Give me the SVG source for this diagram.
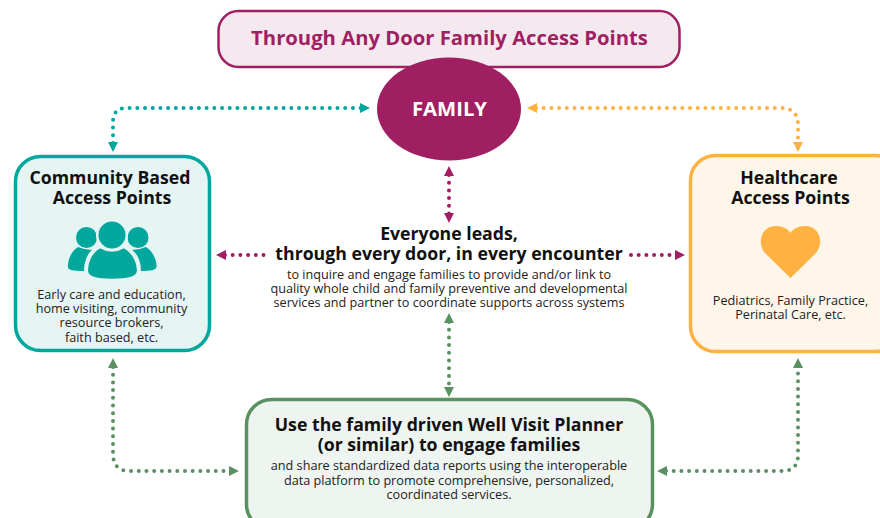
<svg xmlns="http://www.w3.org/2000/svg" width="880" height="518" viewBox="0 0 880 518">
<style>
text{font-family:"Open Sans","Liberation Sans",sans-serif;text-anchor:middle;fill:#111}
.h{font-size:17.700px;font-weight:700}
.b{font-size:12.650px;fill:#222}
.box{stroke-width:3.5}
.c{fill:none;stroke-width:4;stroke-linecap:round;stroke-dasharray:0 7.700}
</style>
<defs>
<marker id="at" markerUnits="userSpaceOnUse" markerWidth="11" markerHeight="12" refX="1" refY="6" orient="auto-start-reverse"><path d="M0 1L10 6L0 11Z" fill="#00a79d"/></marker>
<marker id="ao" markerUnits="userSpaceOnUse" markerWidth="11" markerHeight="12" refX="1" refY="6" orient="auto-start-reverse"><path d="M0 1L10 6L0 11Z" fill="#ffb142"/></marker>
<marker id="ap" markerUnits="userSpaceOnUse" markerWidth="11" markerHeight="12" refX="1" refY="6" orient="auto-start-reverse"><path d="M0 1L10 6L0 11Z" fill="#a01f62"/></marker>
<marker id="ag" markerUnits="userSpaceOnUse" markerWidth="11" markerHeight="12" refX="1" refY="6" orient="auto-start-reverse"><path d="M0 1L10 6L0 11Z" fill="#5a9160"/></marker>
</defs>
<g id="connectors">
<path class="c" stroke="#00a79d" marker-start="url(#at)" marker-end="url(#at)" d="M113 143V122Q113 108 127 108H361"/>
<path class="c" stroke="#ffb142" marker-start="url(#ao)" marker-end="url(#ao)" d="M536 108H780Q798 108 798 124V143"/>
<path class="c" stroke="#a01f62" marker-start="url(#ap)" marker-end="url(#ap)" d="M449 175V214"/>
<path class="c" stroke="#a01f62" marker-start="url(#ap)" d="M225 255H265"/>
<path class="c" stroke="#a01f62" marker-end="url(#ap)" d="M631 255H676"/>
<path class="c" stroke="#5a9160" marker-start="url(#ag)" marker-end="url(#ag)" d="M449 322V388"/>
<path class="c" stroke="#5a9160" marker-start="url(#ag)" marker-end="url(#ag)" d="M113 367V454Q113 471 130 471H230"/>
<path class="c" stroke="#5a9160" marker-start="url(#ag)" marker-end="url(#ag)" d="M666 471H782Q798 471 798 455V367"/>
</g>
<g id="title">
<rect x="218.500" y="11" width="461" height="56" rx="20" fill="#f5e9f0" stroke="#a01f62" stroke-width="2.500"/>
<text x="449.500" y="44.500" style="font-size:20.250px;font-weight:700;fill:#a01f62">Through Any Door Family Access Points</text>
</g>
<g id="family">
<ellipse cx="449" cy="109" rx="72" ry="51.500" fill="#a01f62"/>
<text x="449.500" y="116" style="font-size:20.300px;font-weight:700;fill:#fff">FAMILY</text>
</g>
<g id="community">
<rect class="box" x="15.500" y="156.500" width="194" height="194" rx="25" fill="#e5f5f3" stroke="#00a79d"/>
<text class="h" x="110" y="184">Community Based</text>
<text class="h" x="112" y="204">Access Points</text>
<g fill="#00a79d">
<circle cx="86.500" cy="237.500" r="10.500"/><circle cx="138" cy="237.500" r="10.500"/>
<path d="M78 247C70 252 67.500 262 68 267C68 270 73 271 84 271C84 262 87 254 92 250Q85 250 78 247Z"/>
<path d="M146 247C154 252 157 262 156.500 267C156 270 151 271 141 271C141 262 138 254 132 250Q139 250 146 247Z"/>
</g>
<g fill="#00a79d" stroke="#e5f5f3" stroke-width="2.500">
<circle cx="112" cy="235" r="14.800"/>
<path d="M100 247Q112 254 124 247C134 252 139 264 138 272C137 279 125 280 112 280C99 280 88 279 87 272C86 264 90 252 100 247Z"/>
</g>
<text class="b" x="111.500" y="298.500">Early care and education,</text>
<text class="b" x="111.500" y="312.500">home visiting, community</text>
<text class="b" x="111.500" y="327">resource brokers,</text>
<text class="b" x="111.500" y="341.500">faith based, etc.</text>
</g>
<g id="healthcare">
<rect class="box" x="690.500" y="155.500" width="210" height="196" rx="25" fill="#fff6ea" stroke="#ffb142"/>
<text class="h" x="789" y="184">Healthcare</text>
<text class="h" x="790.500" y="204">Access Points</text>
<path d="M790.500 278L766 254C756 244 761 226 776 226C783 226 788 229 790.500 233C793 229 798 226 805 226C820 226 825 244 815 254Z" fill="#ffb142"/>
<text class="b" x="790.500" y="304.500">Pediatrics, Family Practice,</text>
<text class="b" x="790.500" y="318.500">Perinatal Care, etc.</text>
</g>
<g id="center">
<text class="h" x="449" y="240">Everyone leads,</text>
<text class="h" x="449" y="260">through every door, in every encounter</text>
<text class="b" x="449" y="278.500">to inquire and engage families to provide and/or link to</text>
<text class="b" x="449" y="292.500">quality whole child and family preventive and developmental</text>
<text class="b" x="449" y="307">services and partner to coordinate supports across systems</text>
</g>
<g id="planner">
<rect class="box" x="246.500" y="399.500" width="406" height="130" rx="25" fill="#eef4f0" stroke="#5a9160"/>
<text class="h" x="449" y="431">Use the family driven Well Visit Planner</text>
<text class="h" x="449" y="451">(or similar) to engage families</text>
<text class="b" x="449" y="470">and share standardized data reports using the interoperable</text>
<text class="b" x="449" y="484.500">data platform to promote comprehensive, personalized,</text>
<text class="b" x="449" y="499">coordinated services.</text>
</g>
</svg>
